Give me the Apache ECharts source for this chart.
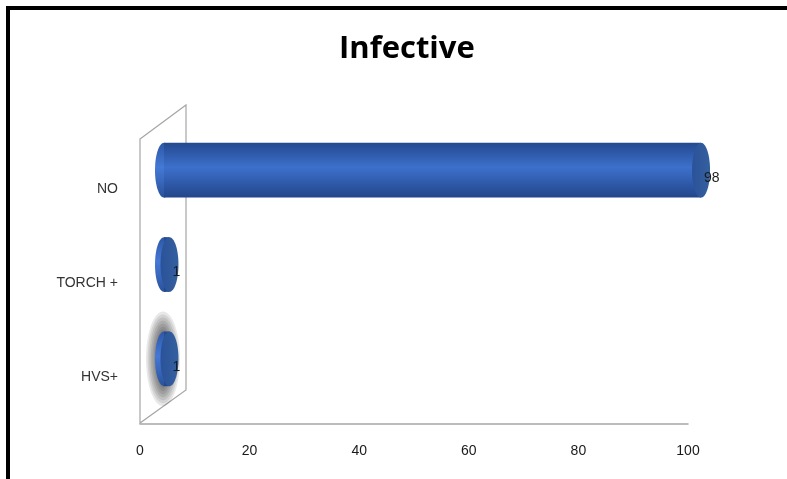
<!DOCTYPE html>
<html>
<head>
<meta charset="utf-8">
<script src="https://cdn.jsdelivr.net/npm/echarts@6/dist/echarts.min.js"></script>
<style>
  html, body { margin: 0; padding: 0; background: #fff; }
  #chart { width: 787px; height: 479px; }
</style>
</head>
<body>
<div id="chart"></div>
<script>
const titleText = 'Infective'
const categories = ['NO', 'TORCH +', 'HVS+']
const values = [98, 1, 1]
const xMin = 0
const xMax = 100
const xStep = 20

const chart = echarts.init(document.getElementById('chart'))

// cylinder body gradient (top/bottom dark, middle lighter)
const bodyColor = new echarts.graphic.LinearGradient(0, 0, 0, 1, [
  { offset: 0, color: '#24498f' },
  { offset: 0.45, color: '#3d70cc' },
  { offset: 1, color: '#22468a' }
])
const capColor = new echarts.graphic.LinearGradient(0, 0, 1, 0, [
  { offset: 0, color: '#2b5299' },
  { offset: 1, color: '#34609f' }
])
const backColor = new echarts.graphic.LinearGradient(0, 0, 0, 1, [
  { offset: 0, color: '#2c57a6' },
  { offset: 0.45, color: '#4579d6' },
  { offset: 1, color: '#2a529c' }
])

const renderCylinder = (params, api) => {
  const cat = api.value(0)
  const val = api.value(1)
  const start = api.coord([0, cat])
  const end = api.coord([val, cat])
  const h = api.size([0, 1])[1] * 0.58
  const rx = 9
  const children = []
  if (params.dataIndex === 2) {
    // fuzzy halo behind the last disc: stacked translucent ellipses
    for (let k = 0; k < 7; k++) {
      children.push({
        type: 'ellipse',
        shape: { cx: start[0] - 1, cy: start[1], rx: 17 - k * 1.6, ry: h / 2 + 20 - k * 3 },
        style: { fill: 'rgba(0,0,0,0.09)' }
      })
    }
  }
  children.push(
    {
      type: 'ellipse',
      shape: { cx: start[0], cy: start[1], rx: rx, ry: h / 2 },
      style: { fill: backColor }
    },
    {
      type: 'rect',
      shape: { x: start[0], y: start[1] - h / 2, width: end[0] - start[0], height: h },
      style: { fill: bodyColor }
    },
    {
      type: 'ellipse',
      shape: { cx: end[0], cy: end[1], rx: rx, ry: h / 2 },
      style: { fill: capColor }
    },
    {
      type: 'text',
      style: {
        text: String(val),
        x: end[0] + 3,
        y: end[1] + 8,
        align: 'left',
        verticalAlign: 'middle',
        fill: '#1a1a1a',
        font: '14px "Liberation Sans", sans-serif'
      },
      z2: 10
    }
  )
  return { type: 'group', children: children }
}

const option = {
  backgroundColor: '#fff',
  animation: false,
  title: {
    text: titleText,
    left: 334,
    top: 29,
    textStyle: {
      fontFamily: '"Open Sans", sans-serif',
      fontWeight: 'bold',
      fontSize: 31,
      color: '#000'
    }
  },
  graphic: [
    // outer frame (top + left)
    { type: 'line', shape: { x1: 6, y1: 8, x2: 787, y2: 8 }, style: { stroke: '#000', lineWidth: 4 } },
    { type: 'line', shape: { x1: 8, y1: 8, x2: 8, y2: 479 }, style: { stroke: '#000', lineWidth: 4 } },
    // back wall
    {
      type: 'polygon',
      shape: { points: [[140, 139], [186, 105], [186, 390], [140, 423]] },
      style: { fill: 'none', stroke: '#a6a6a6', lineWidth: 1.2 },
      z: -1
    }
  ],
  grid: [
    { left: 140, right: 99, top: 142, bottom: 55 },
    { left: 164, right: 75, top: 123, bottom: 73 }
  ],
  xAxis: [
    {
      gridIndex: 0,
      type: 'value',
      min: xMin,
      max: xMax,
      interval: xStep,
      splitLine: { show: false },
      axisTick: { show: false },
      axisLine: { show: true, lineStyle: { color: '#a6a6a6', width: 1.5 } },
      axisLabel: {
        margin: 20,
        color: '#1a1a1a',
        fontSize: 14,
        fontFamily: '"Liberation Sans", sans-serif'
      }
    },
    { gridIndex: 1, type: 'value', min: xMin, max: xMax, show: false }
  ],
  yAxis: [
    {
      gridIndex: 0,
      type: 'category',
      inverse: true,
      data: categories,
      axisLine: { show: false },
      axisTick: { show: false },
      axisLabel: {
        margin: 22,
        color: '#333',
        fontSize: 14,
        fontFamily: '"Liberation Sans", sans-serif'
      }
    },
    { gridIndex: 1, type: 'category', inverse: true, data: categories, show: false }
  ],
  series: [
    {
      type: 'custom',
      xAxisIndex: 1,
      yAxisIndex: 1,
      encode: { x: 1, y: 0 },
      renderItem: renderCylinder,
      data: values.map((v, i) => [i, v])
    }
  ]
}

chart.setOption(option)
</script>
</body>
</html>
